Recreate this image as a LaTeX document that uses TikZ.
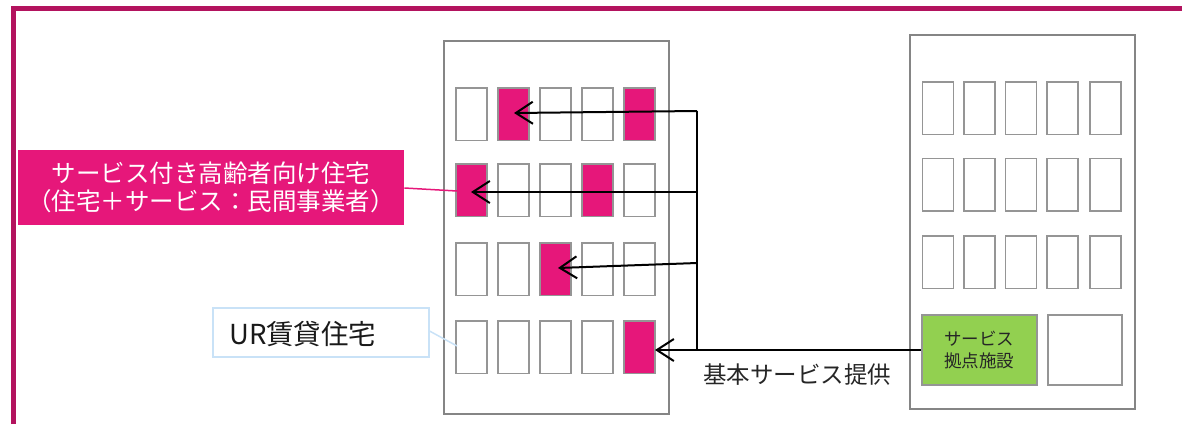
\documentclass[tikz,border=0pt]{standalone}
\usepackage{fontspec}
\setmainfont{Noto Sans CJK JP}
\usetikzlibrary{arrows.meta,calc}
\definecolor{framec}{HTML}{B3135E}
\definecolor{pinkc}{HTML}{E6177A}
\definecolor{greenc}{HTML}{92D050}
\definecolor{bldgc}{HTML}{858585}
\definecolor{winc}{HTML}{959595}
\definecolor{urblue}{HTML}{C9E2F7}
\tikzset{
  bldg/.style={draw=bldgc,line width=2pt,fill=white},
  win/.style={draw=winc,line width=1.5pt,fill=white,minimum width=31pt,minimum height=52.5pt,inner sep=0pt,anchor=north west},
  pinkwin/.style={win,fill=pinkc},
  arr/.style={draw=black,line width=2pt,-{Straight Barb[length=17pt,width=22pt,line width=2pt]}},
  feed/.style={draw=black,line width=2pt}
}
\begin{document}
\begin{tikzpicture}[x=1pt,y=-1pt]
\useasboundingbox (0,0) rectangle (1182,424);
% frame
\draw[framec,line width=5pt] (13.7,424) -- (13.7,8.5) -- (1182,8.5);
% buildings
\node[bldg,minimum width=225pt,minimum height=373pt,inner sep=0pt,anchor=north west] (LB) at (443,40) {};
\node[bldg,minimum width=225pt,minimum height=374pt,inner sep=0pt,anchor=north west] (RB) at (909,34) {};
% left building windows
\foreach \r/\y in {1/87,2/163,3/242,4/320}{
  \foreach \c/\x in {1/455,2/497,3/539,4/581,5/623}{
    \node[win] (L\r\c) at (\x,\y) {};
  }
}
\foreach \r/\c/\x/\y in {1/2/497/87,1/5/623/87,2/1/455/163,2/4/581/163,3/3/539/242,4/5/623/320}{
  \node[pinkwin] (P\r\c) at (\x,\y) {};
}
% right building windows
\foreach \r/\y in {1/81,2/157.5,3/235}{
  \foreach \c/\x in {1/921.5,2/963,3/1004.5,4/1046,5/1089}{
    \node[win] (R\r\c) at (\x,\y) {};
  }
}
\node[draw=winc,line width=1.5pt,fill=greenc,minimum width=115pt,minimum height=70pt,inner sep=0pt,anchor=north west,align=center,font=\fontsize{17.5}{22}\selectfont,text=black!85] (G) at (921,314) {サービス\\拠点施設};
\node[draw=winc,line width=1.5pt,fill=white,minimum width=74pt,minimum height=70pt,inner sep=0pt,anchor=north west] (W) at (1047,314) {};
% arrows
\coordinate (J4) at (697,350);
\coordinate (J1) at (697,111);
\coordinate (J2) at (697,192);
\coordinate (J3) at (697,263);
\coordinate (T1) at (514,113);
\coordinate (T2) at (471,192);
\coordinate (T3) at (558,268);
\coordinate (T4) at (655,350);
\draw[arr] (G.west |- J4) -- (T4);
\draw[feed] (J4) -- (J1);
\draw[arr] (J1) -- (T1);
\draw[arr] (J2) -- (T2);
\draw[arr] (J3) -- (T3);
\node[font=\fontsize{23.5}{26}\selectfont,text=black!85] (K) at (797,375) {基本サービス提供};
% labels
\node[fill=pinkc,minimum width=386pt,minimum height=75pt,inner sep=0pt,anchor=north west,align=center,text=white,font=\fontsize{24.5}{28}\selectfont] (S) at (18,150) {サービス付き高齢者向け住宅\\（住宅＋サービス：民間事業者）};
\draw[pinkc,line width=1.5pt] (S.east |- 0,188) -- (457,191);
\node[draw=urblue,line width=1.5pt,fill=white,minimum width=216pt,minimum height=49pt,inner sep=0pt,anchor=north west] (U) at (212,307) {};
\node[anchor=west,inner sep=0pt,font=\fontsize{27.5}{30}\selectfont,text=black!90] (UT) at (229,334) {UR賃貸住宅};
\draw[urblue,line width=1.5pt] (U.east |- 0,331) -- (457,346);
\end{tikzpicture}
\end{document}
